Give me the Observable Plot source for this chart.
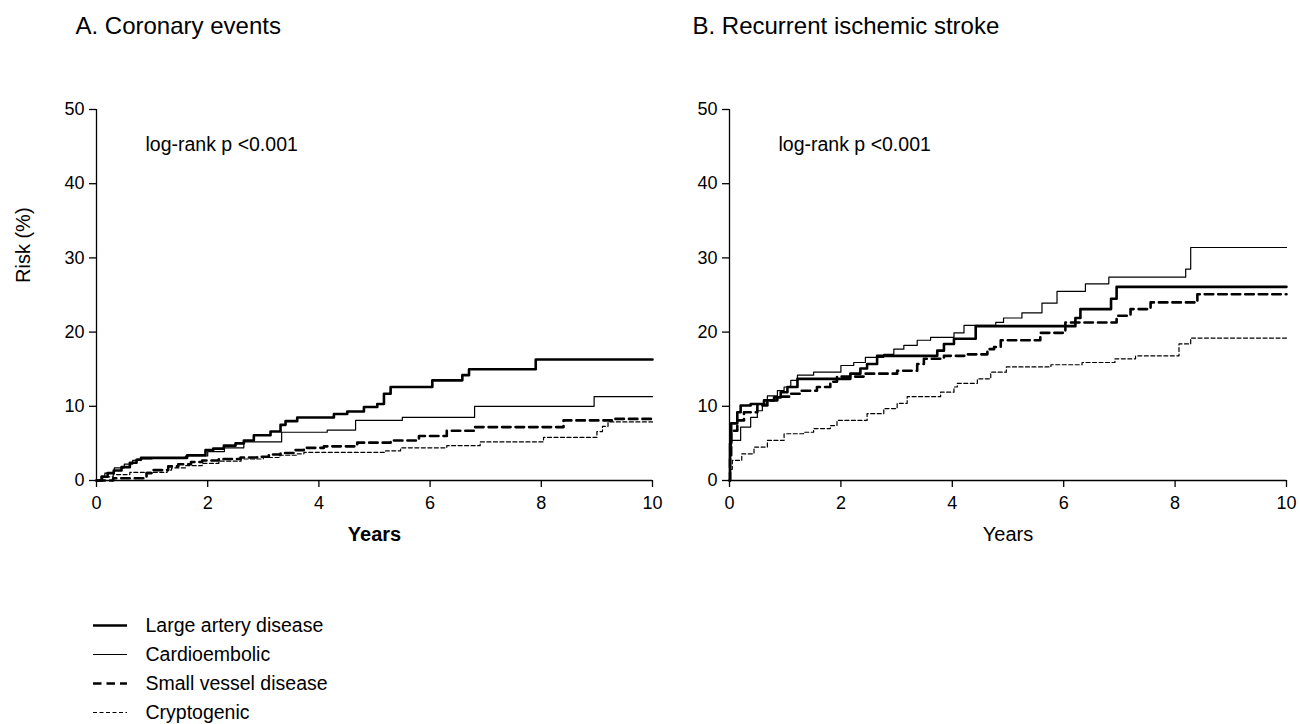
<!DOCTYPE html>
<html><head><meta charset="utf-8">
<script src="https://cdn.jsdelivr.net/npm/d3@7"></script>
<script src="https://cdn.jsdelivr.net/npm/@observablehq/plot@0.6"></script>
<style>
body{margin:0;background:#fff;}
#root{position:relative;width:1300px;height:724px;overflow:hidden;background:#fff;}
#root svg{position:absolute;overflow:visible;}
g[aria-label="xlabel-bold"] text{letter-spacing:1px;}
g[aria-label="legend-spaced"] text{letter-spacing:1px;}
</style></head><body><div id="root"></div>
<script>
const seriesNames = ["Large artery disease","Cardioembolic","Small vessel disease","Cryptogenic"];
const xTicks = [0,2,4,6,8,10];
const yTicks = [0,10,20,30,40,50];
const titleA = "A. Coronary events";
const titleB = "B. Recurrent ischemic stroke";
const noteText = "log-rank p <0.001";
const yLabel = "Risk (%)";
const xLabel = "Years";

// Panel A: coronary events (years, risk %)
const coronaryLAD_t = [0,0.1,0.2,0.31,0.45,0.6,0.72,0.8,1.63,1.96,2.1,2.29,2.5,2.65,2.83,3.13,3.31,3.4,3.61,4.27,4.51,4.81,5.05,5.17,5.29,6.04,6.58,6.7,7.9,10];
const coronaryLAD_r = [0,0.5,1.0,1.35,1.8,2.4,2.8,3.05,3.4,4.1,4.3,4.7,5.0,5.4,6.1,6.6,7.5,8.0,8.5,8.96,9.3,9.9,10.3,11.7,12.6,13.5,14.2,15.0,16.3,16.3];
const coronaryCE_t = [0,0.08,0.15,0.32,0.5,0.65,0.73,1.0,1.6,2.0,2.3,2.65,3.33,4.15,4.66,5.5,6.8,8.95,10];
const coronaryCE_r = [0,0.6,1.0,1.7,2.2,2.7,2.9,3.0,3.3,3.9,4.4,5.2,6.5,6.8,8.1,8.5,10.0,11.3,11.3];
const coronarySVD_t = [0,0.3,0.9,1.0,1.29,1.47,1.7,1.9,2.2,2.59,2.89,3.1,3.31,3.55,3.73,4.09,4.69,5.29,5.8,6.3,6.8,8.4,9.3,10];
const coronarySVD_r = [0,0.3,1.0,1.4,1.9,2.2,2.5,2.7,2.9,3.1,3.2,3.5,3.7,4.1,4.4,4.6,5.1,5.4,6.0,6.7,7.2,8.1,8.3,8.3];
const coronaryCRY_t = [0,0.1,0.3,0.6,1.27,1.35,1.6,1.9,2.2,2.6,3.0,3.3,3.6,3.73,5.2,5.47,6.3,6.9,8.04,9.0,9.1,9.2,10];
const coronaryCRY_r = [0,0.5,0.8,1.1,1.4,1.7,2.0,2.3,2.6,2.9,3.1,3.4,3.6,3.8,4.0,4.4,4.7,5.2,5.8,6.6,7.3,7.9,7.9];

// Panel B: recurrent ischemic stroke
const strokeLAD_t = [0,0.01,0.03,0.14,0.2,0.38,0.62,0.8,0.92,1.04,1.22,2.17,2.35,2.47,2.65,3.73,3.85,4.03,4.42,6.21,6.3,6.85,6.95,10];
const strokeLAD_r = [0,5.0,7.7,9.2,10.1,10.3,10.8,11.2,11.9,12.6,13.7,14.4,15.1,15.7,16.8,17.5,18.4,19.1,20.8,21.9,23.1,24.5,26.1,26.1];
const strokeCE_t = [0,0.01,0.03,0.2,0.38,0.5,0.59,0.68,0.86,0.98,1.1,1.22,1.51,2.0,2.23,2.44,2.77,2.95,3.13,3.37,3.61,4.03,4.21,4.78,4.92,5.25,5.61,5.88,6.39,6.81,8.19,8.28,10];
const strokeCE_r = [0,3.5,5.4,7.2,8.5,9.4,10.3,11.4,12.1,12.6,13.5,14.2,14.6,15.5,15.9,16.6,17.0,17.7,18.2,18.9,19.3,19.9,20.9,21.3,21.9,22.6,23.9,25.5,26.5,27.4,28.5,31.4,31.4];
const strokeSVD_t = [0,0.01,0.03,0.14,0.26,0.5,0.68,0.86,1.1,1.27,1.57,1.81,1.93,2.41,3.01,3.37,3.49,3.85,4.27,4.63,4.75,4.87,5.58,6.03,6.95,7.2,7.56,8.4,10];
const strokeSVD_r = [0,3.0,6.7,8.1,9.2,10.1,10.8,11.3,11.7,12.1,12.6,13.3,14.0,14.4,14.8,15.7,16.4,16.8,17.0,17.7,18.0,18.9,19.9,21.3,22.2,23.1,24.0,25.1,25.1];
const strokeCRY_t = [0,0.01,0.05,0.22,0.44,0.68,0.98,1.33,1.51,1.81,1.93,2.47,2.77,3.01,3.19,3.79,4.03,4.09,4.45,4.69,4.97,5.77,6.33,6.92,7.29,8.07,8.28,10];
const strokeCRY_r = [0,1.5,2.7,3.6,4.5,5.4,6.3,6.5,7.0,7.4,8.1,9.0,9.7,10.4,11.3,11.9,12.6,13.1,13.7,14.6,15.3,15.6,15.9,16.4,16.8,18.4,19.2,19.2];

const lineStyle = {
  "Large artery disease": {w: 2.6, dash: null},
  "Cardioembolic": {w: 1.2, dash: null},
  "Small vessel disease": {w: 2.6, dash: "8.5,5"},
  "Cryptogenic": {w: 1.2, dash: "4,2.5"}
};

function rows(series, t, r) { return t.map((v, i) => ({series, t: v, r: r[i]})); }
const coronaryRows = [
  ...rows(seriesNames[0], coronaryLAD_t, coronaryLAD_r),
  ...rows(seriesNames[1], coronaryCE_t, coronaryCE_r),
  ...rows(seriesNames[2], coronarySVD_t, coronarySVD_r),
  ...rows(seriesNames[3], coronaryCRY_t, coronaryCRY_r)
];
const strokeRows = [
  ...rows(seriesNames[0], strokeLAD_t, strokeLAD_r),
  ...rows(seriesNames[1], strokeCE_t, strokeCE_r),
  ...rows(seriesNames[2], strokeSVD_t, strokeSVD_r),
  ...rows(seriesNames[3], strokeCRY_t, strokeCRY_r)
];

const FONT = "'Liberation Sans', Arial, Helvetica, sans-serif";

function panel({data, width, marginLeft, marginRight, title, titleDx, boldX, withYLabel}) {
  const marks = [
    Plot.ruleX([0], {y1: 0, y2: 50, strokeWidth: 1.3}),
    Plot.ruleY([0], {x1: 0, x2: 10, strokeWidth: 1.3}),
    Plot.axisX({ticks: xTicks, tickSize: 7, tickPadding: 9, fontSize: 18, label: null, strokeWidth: 1.3}),
    Plot.axisY({ticks: yTicks, tickSize: 7, tickPadding: 5, fontSize: 18, label: null, strokeWidth: 1.3}),
    ...seriesNames.map(s => Plot.line(data.filter(d => d.series === s), {
      x: "t", y: "r", curve: "step-after", stroke: "black",
      strokeWidth: lineStyle[s].w, strokeDasharray: lineStyle[s].dash
    })),
    Plot.text([title], {frameAnchor: "top-left", dx: titleDx, dy: -76, lineAnchor: "bottom", textAnchor: "start", fontSize: 24}),
    Plot.text([noteText], {frameAnchor: "top-left", dx: 49, dy: 41, lineAnchor: "bottom", textAnchor: "start", fontSize: 19.5}),
    Plot.text([xLabel], {frameAnchor: "bottom", dy: 54, lineAnchor: "middle", fontSize: 20,
      fontWeight: boldX ? "bold" : "normal", ariaLabel: boldX ? "xlabel-bold" : "xlabel"})
  ];
  if (withYLabel) marks.push(Plot.text([yLabel], {frameAnchor: "left", rotate: -90, dx: -73, dy: -12, lineAnchor: "middle", fontSize: 20}));
  return Plot.plot({
    width, height: 560, marginLeft, marginRight, marginTop: 109, marginBottom: 80,
    x: {domain: [0, 10], label: null},
    y: {domain: [0, 50], label: null},
    style: {fontFamily: FONT, fontSize: "18px", color: "black", background: "transparent", overflow: "visible"},
    marks
  });
}

const root = document.getElementById("root");
const svgA = panel({data: coronaryRows, width: 670, marginLeft: 96, marginRight: 18, title: titleA, titleDx: -21, boldX: true, withYLabel: true});
svgA.style.left = "0px"; svgA.style.top = "0px";
root.appendChild(svgA);
const svgB = panel({data: strokeRows, width: 630, marginLeft: 59, marginRight: 14, title: titleB, titleDx: -37, boldX: false, withYLabel: false});
svgB.style.left = "670px"; svgB.style.top = "0px";
root.appendChild(svgB);

// Legend
const legendMarks = seriesNames.map(s => Plot.ruleY([s], {x1: 0, x2: 1, stroke: "black",
  strokeWidth: lineStyle[s].w, strokeDasharray: lineStyle[s].dash}));
legendMarks.push(Plot.text(seriesNames.filter(s => s !== "Small vessel disease"), {x: 1, y: d => d, dx: 18, textAnchor: "start", fontSize: 19.5}));
legendMarks.push(Plot.text(["Small vessel disease"], {x: 1, y: d => d, dx: 18, textAnchor: "start", fontSize: 19.5, ariaLabel: "legend-spaced"}));
const legend = Plot.plot({
  width: 420, height: 124, margin: 0,
  x: {domain: [0, 1], range: [93, 127], axis: null},
  y: {type: "point", domain: seriesNames, range: [25, 112], padding: 0, axis: null},
  style: {fontFamily: FONT, fontSize: "19.5px", color: "black", background: "transparent", overflow: "visible"},
  marks: legendMarks
});
legend.style.left = "0px"; legend.style.top = "600px";
root.appendChild(legend);
</script></body></html>
